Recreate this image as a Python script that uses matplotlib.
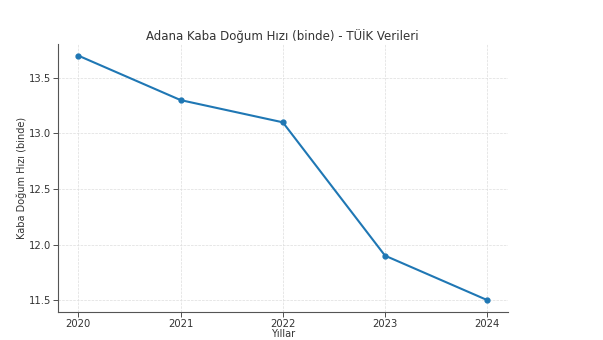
import matplotlib
matplotlib.use('Agg')
import matplotlib.pyplot as plt

years = [2020, 2021, 2022, 2023, 2024]
rates = [13.7, 13.3, 13.1, 11.9, 11.5]

fig = plt.figure(figsize=(6.03, 3.40), dpi=100)
ax = fig.add_axes([0.096, 0.082, 0.746, 0.789])
ax.plot(years, rates, marker='o', markersize=3.5, linewidth=1.5, color='#1f77b4')
ax.set_title('Adana Kaba Doğum Hızı (binde) - TÜİK Verileri', fontsize=8.5, color='#333333', pad=3)
ax.set_xlabel('Yıllar', fontsize=7, color='#333333', labelpad=0)
ax.set_ylabel('Kaba Doğum Hızı (binde)', fontsize=7, color='#333333', labelpad=1)
ax.set_xticks(years)
ax.set_yticks([11.5, 12.0, 12.5, 13.0, 13.5])
ax.set_xlim(2019.8, 2024.2)
ax.set_ylim(11.392, 13.806)
ax.tick_params(labelsize=7.2, colors='#333333', length=3.5, width=0.6, pad=1.5)
ax.grid(True, linestyle='--', linewidth=0.5, color='#dddddd')
for s in ['top', 'right']:
    ax.spines[s].set_visible(False)
for s in ['left', 'bottom']:
    ax.spines[s].set_color('#555555')
    ax.spines[s].set_linewidth(0.8)
fig.savefig('out.png', dpi=100)
